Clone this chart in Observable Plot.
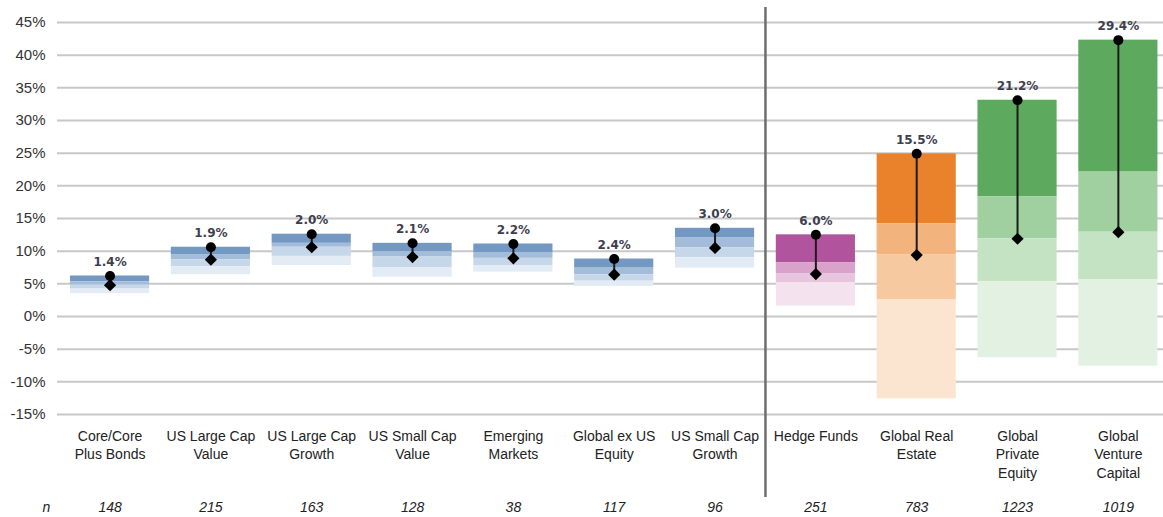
<!DOCTYPE html>
<html>
<head>
<meta charset="utf-8">
<script src="https://cdn.jsdelivr.net/npm/d3@7"></script>
<script src="https://cdn.jsdelivr.net/npm/@observablehq/plot@0.6"></script>
<style>
  html, body { margin: 0; padding: 0; background: #fff; }
  svg { display: block; }
</style>
</head>
<body>
<script>
// ---------- data ----------
const categories = [
  "Core/Core Plus Bonds", "US Large Cap Value", "US Large Cap Growth", "US Small Cap Value",
  "Emerging Markets", "Global ex US Equity", "US Small Cap Growth", "Hedge Funds",
  "Global Real Estate", "Global Private Equity", "Global Venture Capital"
];
const tickLabels = [
  "Core/Core\nPlus Bonds", "US Large Cap\nValue", "US Large Cap\nGrowth", "US Small Cap\nValue",
  "Emerging\nMarkets", "Global ex US\nEquity", "US Small Cap\nGrowth", "Hedge Funds",
  "Global Real\nEstate", "Global\nPrivate\nEquity", "Global\nVenture\nCapital"
];
const assetType = ["Public", "Public", "Public", "Public", "Public", "Public", "Public",
  "Hedge", "Real Estate", "Private", "Private"];
const nCounts = [148, 215, 163, 128, 38, 117, 96, 251, 783, 1223, 1019];

// distribution boundaries (%), top to bottom
const topQuartile  = [6.2, 10.6, 12.6, 11.2, 11.1, 8.8, 13.5, 12.5, 24.9, 33.1, 42.3];
const upperBand    = [5.3,  9.4, 11.2,  9.9,  9.8, 7.4, 12.0,  8.2, 14.2, 18.3, 22.1];
const medianVals   = [4.8,  8.7, 10.6,  9.1,  8.9, 6.4, 10.5,  6.5,  9.4, 11.9, 12.9];
const lowerBand    = [4.2,  7.6,  9.2,  7.5,  7.8, 5.4,  9.0,  5.2,  2.6,  5.3,  5.6];
const bottomVals   = [3.5,  6.4,  7.8,  6.0,  6.8, 4.6,  7.4,  1.6, -12.6, -6.3, -7.6];
const spreadLabels = ["1.4%", "1.9%", "2.0%", "2.1%", "2.2%", "2.4%", "3.0%", "6.0%", "15.5%", "21.2%", "29.4%"];

const yTicks = [-15, -10, -5, 0, 5, 10, 15, 20, 25, 30, 35, 40, 45];
const separatorBefore = "Hedge Funds";

// ---------- styles ----------
const palettes = {
  "Public":      ["#7398c1", "#a2bcd9", "#c7d7ea", "#e3ebf5"],
  "Hedge":       ["#b0559d", "#d8a2cb", "#e8c5df", "#f4e2ef"],
  "Real Estate": ["#e9822b", "#f2b37c", "#f7c9a0", "#fbe5d0"],
  "Private":     ["#5da95e", "#a0d0a0", "#c4e3c3", "#e3f1e2"]
};

const W = 1163, H = 517;
const mLeft = 57, mRight = 0, mTop = 22, mBottom = 103;
const PI = 0.215, PO = 0.092, ALIGN = 0.7;
const step = (W - mLeft - mRight) / (categories.length - PI + 2 * PO);

const bounds = [topQuartile, upperBand, medianVals, lowerBand, bottomVals];
const segments = [];
categories.forEach((c, i) => {
  for (let k = 0; k < 4; k++) {
    segments.push({x: c, y1: bounds[k + 1][i], y2: bounds[k][i], fill: palettes[assetType[i]][k]});
  }
});
const points = categories.map((c, i) => ({
  x: c, top: topQuartile[i], med: medianVals[i], label: spreadLabels[i],
  tick: tickLabels[i], n: String(nCounts[i])
}));

const chart = Plot.plot({
  width: W,
  height: H,
  marginLeft: mLeft,
  marginRight: mRight,
  marginTop: mTop,
  marginBottom: mBottom,
  style: {fontFamily: "'Liberation Sans', Arial, sans-serif", fontSize: "15px", color: "#333", background: "#fff"},
  x: {domain: categories, paddingInner: PI, paddingOuter: PO, align: ALIGN, round: false, axis: null},
  y: {domain: [-15, 45], ticks: yTicks, tickFormat: d => d + "%", tickSize: 0, tickPadding: 12, label: null},
  marks: [
    Plot.ruleY(yTicks, {stroke: "#c8c8c8", strokeWidth: 2}),
    Plot.barY(segments, {x: "x", y1: "y1", y2: "y2", fill: "fill"}),
    Plot.ruleX([separatorBefore], {x: d => d, dx: -step / 2, stroke: "#6e6e6e", strokeWidth: 2.5, insetTop: -15, insetBottom: -83}),
    Plot.ruleX(points, {x: "x", y1: "med", y2: "top", stroke: "#1c1c1c", strokeWidth: 2}),
    Plot.dot(points, {x: "x", y: "top", r: 5, fill: "#000", stroke: "none"}),
    Plot.dot(points, {x: "x", y: "med", r: 5.5, symbol: "diamond2", fill: "#000", stroke: "none"}),
    Plot.text(points, {x: "x", y: "top", text: "label", dy: -14, fontSize: 12, fontWeight: "bold",
      fontFamily: "'DejaVu Sans', sans-serif", fill: "#3e3e4e"}),
    Plot.text(points, {x: "x", text: "tick", frameAnchor: "bottom", lineAnchor: "top", dy: 13,
      fontSize: 14, lineHeight: 1.33, fill: "#222"}),
    Plot.text(points, {x: "x", text: "n", frameAnchor: "bottom", lineAnchor: "top", dy: 88,
      fontSize: 14, fontStyle: "italic", fill: "#222"}),
    Plot.text(["n"], {text: d => d, frameAnchor: "bottom-left", lineAnchor: "top", dy: 88, dx: -11,
      textAnchor: "middle", fontSize: 14, fontStyle: "italic", fill: "#222"})
  ]
});
document.body.append(chart);
</script>
</body>
</html>
